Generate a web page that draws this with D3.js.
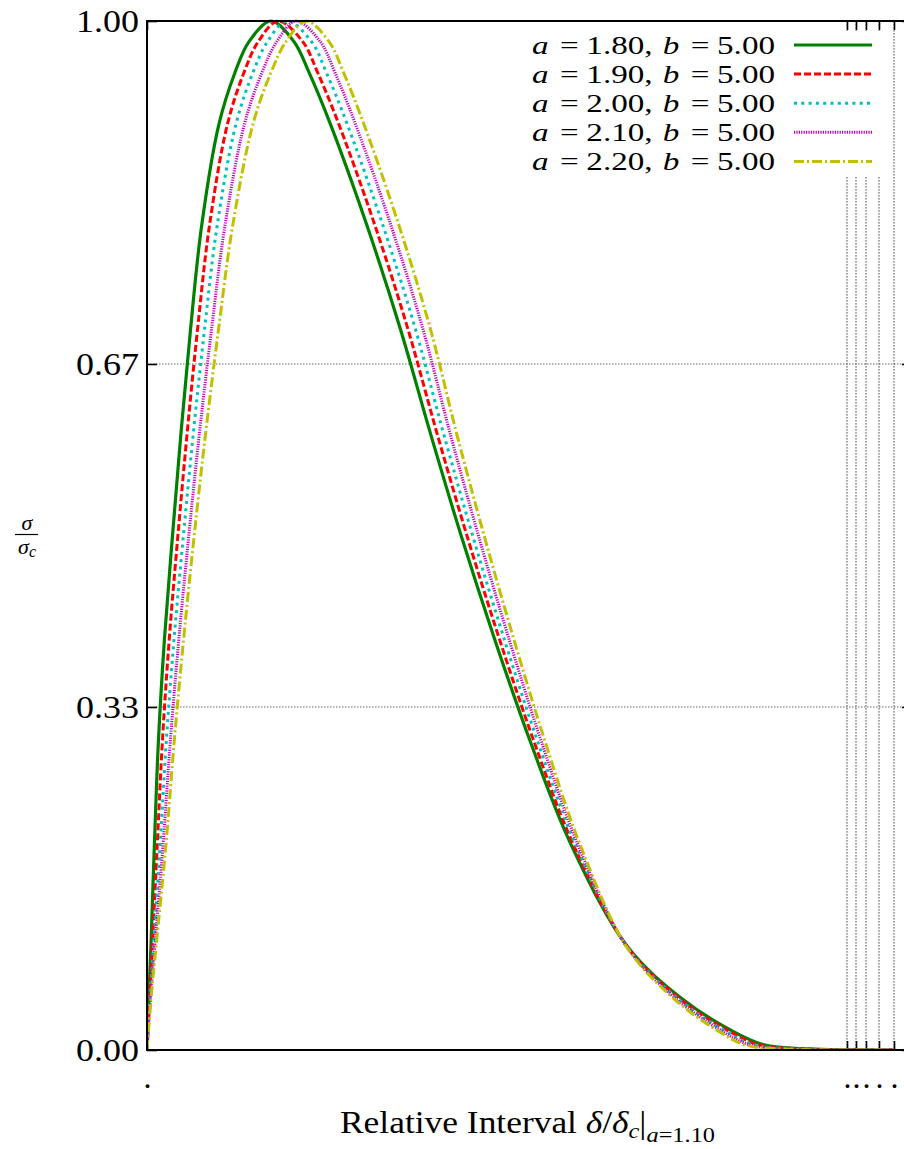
<!DOCTYPE html>
<html>
<head>
<meta charset="utf-8">
<script src="https://cdn.jsdelivr.net/npm/d3@7"></script>
<style>
  html, body { margin: 0; padding: 0; background: #fff; }
  svg { display: block; }
  text { font-family: "Liberation Serif", "DejaVu Serif", serif; fill: #000; }
</style>
</head>
<body>
<svg id="chart" width="904" height="1149"></svg>
<script>
// Normalised stress levels shared by every curve: rising branch, then falling branch.
const sigmaLevels = [0, 0.05, 0.1, 0.2, 0.3, 0.4, 0.5, 0.6, 0.7, 0.8, 0.9, 0.95, 0.98, 1.0,
                     0.98, 0.95, 0.9, 0.8, 0.7, 0.6, 0.5, 0.4, 0.3, 0.2, 0.1, 0.05, 0.02, 0.005, 0.001, 0];

// Relative interval at each stress level, one array per value of a (b = 5.00).
const deltaA180 = [0, 0.018, 0.039, 0.074, 0.114, 0.175, 0.255, 0.34, 0.435, 0.545, 0.72, 0.88, 1.02, 1.24,
                   1.469, 1.62, 1.833, 2.204, 2.536, 2.832, 3.141, 3.474, 3.832, 4.239, 4.808, 5.347, 5.824, 6.17, 6.63, 7.47];
const deltaA190 = [0, 0.024, 0.052, 0.103, 0.154, 0.223, 0.309, 0.402, 0.505, 0.623, 0.805, 0.97, 1.113, 1.31,
                   1.557, 1.706, 1.917, 2.284, 2.611, 2.898, 3.199, 3.522, 3.869, 4.262, 4.806, 5.327, 5.79, 6.123, 6.568, 7.47];
const deltaA200 = [0, 0.029, 0.065, 0.132, 0.193, 0.271, 0.364, 0.464, 0.575, 0.70, 0.89, 1.06, 1.205, 1.40,
                   1.645, 1.793, 2.001, 2.364, 2.686, 2.963, 3.256, 3.57, 3.906, 4.284, 4.803, 5.307, 5.756, 6.075, 6.505, 7.47];
const deltaA210 = [0, 0.035, 0.077, 0.161, 0.233, 0.319, 0.418, 0.525, 0.645, 0.778, 0.975, 1.15, 1.298, 1.49,
                   1.732, 1.879, 2.084, 2.444, 2.761, 3.029, 3.314, 3.618, 3.943, 4.307, 4.801, 5.287, 5.722, 6.028, 6.443, 7.47];
const deltaA220 = [0, 0.04, 0.09, 0.19, 0.272, 0.367, 0.472, 0.587, 0.715, 0.855, 1.06, 1.24, 1.39, 1.59,
                   1.82, 1.965, 2.168, 2.524, 2.836, 3.094, 3.371, 3.666, 3.98, 4.329, 4.798, 5.267, 5.688, 5.98, 6.38, 7.47];

const paramA = [1.80, 1.90, 2.00, 2.10, 2.20];
const paramB = 5.00;

const yTickValues = [0, 1 / 3, 2 / 3, 1];
const xTickValues = [0, 7.00, 7.09, 7.19, 7.32, 7.47];
const xTickLabels = [".", ".", ".", ".", ".", "."];

// Line styles per curve
const styles = [
  { color: "#008000", width: 3.2, dash: null },
  { color: "#ff0000", width: 3,   dash: "7,3" },
  { color: "#00c0c0", width: 3,   dash: "3,4.3" },
  { color: "#c000c0", width: 3,   dash: "1.2,1.2" },
  { color: "#c0c000", width: 3,   dash: "10,3,2,3" }
];

const deltaSeries = [deltaA180, deltaA190, deltaA200, deltaA210, deltaA220];
const series = deltaSeries.map((xs, i) => ({
  a: paramA[i],
  b: paramB,
  points: xs.map((d, j) => ({ x: d, y: sigmaLevels[j] }))
}));

const svg = d3.select("#chart");
const plotL = 147, plotR = 912, plotT = 21, plotB = 1050;
const FONT = 32;

const x = d3.scaleLinear().domain([0, 7.65]).range([plotL, plotR]);
const y = d3.scaleLinear().domain([0, 1]).range([plotB, plotT]);

svg.append("defs").append("clipPath").attr("id", "plotClip")
  .append("rect").attr("x", plotL).attr("y", plotT - 2).attr("width", plotR - plotL).attr("height", plotB - plotT + 2);

// Grid
const grid = svg.append("g").attr("class", "grid");
grid.selectAll("line.gy").data(yTickValues.filter(v => v > 0 && v < 1)).join("line")
  .attr("x1", plotL).attr("x2", plotR)
  .attr("y1", d => y(d)).attr("y2", d => y(d))
  .attr("stroke", "#666").attr("stroke-width", 1).attr("stroke-dasharray", "1.5,1.5");
grid.selectAll("line.gx").data(xTickValues.filter(v => v > 0)).join("line")
  .attr("x1", d => x(d)).attr("x2", d => x(d))
  .attr("y1", plotT).attr("y2", plotB)
  .attr("stroke", "#555").attr("stroke-width", 1).attr("stroke-dasharray", "1.7,1.3");

// Axes (ticks drawn inward, mirrored on top and right)
const axisStyle = g => {
  g.select(".domain").remove();
  g.selectAll(".tick line").attr("stroke", "#000").attr("stroke-width", 1.6);
  g.selectAll(".tick text").attr("font-size", FONT).attr("font-family", "Liberation Serif");
};

svg.append("g").attr("transform", `translate(${plotL},0)`)
  .call(d3.axisLeft(y).tickValues(yTickValues).tickSize(-10).tickPadding(8).tickFormat(d3.format(".2f")))
  .call(axisStyle)
  .call(g => g.selectAll(".tick text").attr("textLength", 63).attr("lengthAdjust", "spacingAndGlyphs"));
svg.append("g").attr("transform", `translate(${plotR},0)`)
  .call(d3.axisRight(y).tickValues(yTickValues).tickSize(-10).tickFormat(""))
  .call(axisStyle);
svg.append("g").attr("transform", `translate(0,${plotB})`)
  .call(d3.axisBottom(x).tickValues(xTickValues).tickSize(-9).tickPadding(15)
        .tickFormat((d, i) => xTickLabels[i]))
  .call(axisStyle);
svg.append("g").attr("transform", `translate(0,${plotT})`)
  .call(d3.axisTop(x).tickValues(xTickValues).tickSize(-9).tickFormat(""))
  .call(axisStyle);

// Curves
const line = d3.line().x(d => x(d.x)).y(d => y(d.y)).curve(d3.curveCatmullRom.alpha(0.5));
const curves = svg.append("g").attr("clip-path", "url(#plotClip)");
series.forEach((s, i) => {
  curves.append("path")
    .datum(s.points)
    .attr("d", line)
    .attr("fill", "none")
    .attr("stroke", styles[i].color)
    .attr("stroke-width", styles[i].width)
    .attr("stroke-dasharray", styles[i].dash)
    .attr("stroke-linejoin", "round");
});

// Border
svg.append("path")
  .attr("d", `M${plotR},${plotT}H${plotL}V${plotB}H${plotR}`)
  .attr("fill", "none").attr("stroke", "#000").attr("stroke-width", 2);

// Legend
const legend = svg.append("g");
legend.append("rect").attr("x", 520).attr("y", 31).attr("width", 364).attr("height", 145).attr("fill", "#fff");
const fmt = d3.format(".2f");
const LEG_FONT = 26;
series.forEach((s, i) => {
  const cy = 45 + i * 29.1;
  const t = legend.append("text").attr("x", 532).attr("y", cy + 9)
    .attr("font-size", LEG_FONT)
    .attr("textLength", 243).attr("lengthAdjust", "spacingAndGlyphs");
  t.append("tspan").attr("font-style", "italic").text("a");
  t.append("tspan").attr("dx", 9).text("=");
  t.append("tspan").attr("dx", 6).text(`${fmt(s.a)},`);
  t.append("tspan").attr("dx", 8).attr("font-style", "italic").text("b");
  t.append("tspan").attr("dx", 9).text("=");
  t.append("tspan").attr("dx", 6).text(fmt(s.b));
  legend.append("line").attr("x1", 794).attr("x2", 872).attr("y1", cy).attr("y2", cy)
    .attr("stroke", styles[i].color).attr("stroke-width", styles[i].width)
    .attr("stroke-dasharray", styles[i].dash);
});

// Y label: sigma over sigma_c
const yl = svg.append("g");
yl.append("text").attr("x", 27).attr("y", 530).attr("text-anchor", "middle")
  .attr("font-size", 22).attr("font-style", "italic").text("σ");
yl.append("line").attr("x1", 15).attr("x2", 38).attr("y1", 534.5).attr("y2", 534.5)
  .attr("stroke", "#000").attr("stroke-width", 1.2);
const yd = yl.append("text").attr("x", 27).attr("y", 554).attr("text-anchor", "middle").attr("font-size", 22);
yd.append("tspan").attr("font-style", "italic").text("σ");
yd.append("tspan").attr("font-style", "italic").attr("font-size", 16).attr("dy", 3).text("c");

// X label
const xl = svg.append("text").attr("x", 340).attr("y", 1133).attr("font-size", FONT)
  .attr("textLength", 375).attr("lengthAdjust", "spacingAndGlyphs");
xl.append("tspan").text("Relative Interval ");
xl.append("tspan").attr("font-style", "italic").text("δ");
xl.append("tspan").text("/");
xl.append("tspan").attr("font-style", "italic").text("δ");
xl.append("tspan").attr("font-style", "italic").attr("font-size", 22).attr("dy", 5).text("c");
xl.append("tspan").attr("dy", -5).text("|");
xl.append("tspan").attr("font-size", 22).attr("dy", 9).attr("font-style", "italic").text("a");
xl.append("tspan").attr("font-size", 22).text("=1.10");
</script>
</body>
</html>
